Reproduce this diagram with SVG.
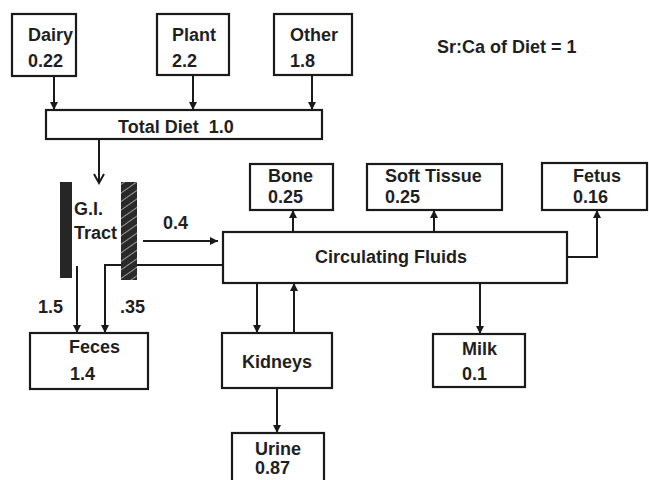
<svg xmlns="http://www.w3.org/2000/svg" width="649" height="480" viewBox="0 0 649 480">
<style>
.box{fill:#fff;stroke:#1a1a1a;stroke-width:2.2}
.ln{fill:none;stroke:#1a1a1a;stroke-width:2}
.t{font-family:"Liberation Sans",Arial,Helvetica,sans-serif;font-size:18px;font-weight:bold;fill:#1f1f1f}
</style>
<defs>
<marker id="ah" markerUnits="userSpaceOnUse" markerWidth="10" markerHeight="10" refX="8" refY="4" orient="auto">
<path d="M0,0 L8,4 L0,8 z" fill="#1a1a1a"/>
</marker>
<marker id="av" markerUnits="userSpaceOnUse" markerWidth="12" markerHeight="14" refX="10" refY="6" orient="auto">
<path d="M1,1 L10,6 L1,11" fill="none" stroke="#1a1a1a" stroke-width="2"/>
</marker>
<pattern id="hatch" patternUnits="userSpaceOnUse" width="7" height="7" patternTransform="rotate(-35)">
<rect width="7" height="7" fill="#2a2a2a"/>
<line x1="0" y1="3.5" x2="7" y2="3.5" stroke="#9a9a9a" stroke-width="1"/>
</pattern>
</defs>
<rect width="649" height="480" fill="#fff"/>

<g id="connectors">
<line class="ln" x1="54" y1="76" x2="54" y2="110" marker-end="url(#ah)"/>
<line class="ln" x1="193" y1="75" x2="193" y2="110" marker-end="url(#ah)"/>
<line class="ln" x1="312" y1="75" x2="312" y2="110" marker-end="url(#ah)"/>
<line class="ln" x1="99" y1="139" x2="99" y2="183" marker-end="url(#av)"/>
<line class="ln" x1="143" y1="241" x2="218" y2="241" marker-end="url(#ah)"/>
<polyline class="ln" points="223,265 105,265 105,333" marker-end="url(#ah)"/>
<line class="ln" x1="77" y1="266" x2="77" y2="333" marker-end="url(#ah)"/>
<line class="ln" x1="293" y1="232" x2="293" y2="210" marker-end="url(#ah)"/>
<line class="ln" x1="434" y1="232" x2="434" y2="210" marker-end="url(#ah)"/>
<polyline class="ln" points="567,257 597,257 597,210" marker-end="url(#ah)"/>
<line class="ln" x1="257" y1="283" x2="257" y2="333" marker-end="url(#ah)"/>
<line class="ln" x1="294" y1="333" x2="294" y2="283" marker-end="url(#ah)"/>
<line class="ln" x1="480" y1="283" x2="480" y2="334" marker-end="url(#ah)"/>
<line class="ln" x1="277" y1="388" x2="277" y2="433" marker-end="url(#ah)"/>
</g>

<g id="dairy"><rect class="box" x="12" y="14" width="64" height="62"/><text class="t" x="28" y="41">Dairy</text><text class="t" x="28" y="67">0.22</text></g>
<g id="plant"><rect class="box" x="157" y="14" width="72" height="61"/><text class="t" x="172" y="41">Plant</text><text class="t" x="172" y="67">2.2</text></g>
<g id="other"><rect class="box" x="274" y="14" width="78" height="61"/><text class="t" x="290" y="41">Other</text><text class="t" x="290" y="67">1.8</text></g>
<g id="note"><text class="t" x="437" y="53">Sr:Ca of Diet = 1</text></g>
<g id="total-diet"><rect class="box" x="46" y="110" width="276" height="29"/><text class="t" x="118" y="133" xml:space="preserve">Total Diet  1.0</text></g>

<g id="gi-tract">
<rect x="60" y="182" width="12" height="96" fill="#262626"/>
<rect x="121" y="182" width="16" height="98" fill="url(#hatch)"/>
<text class="t" x="74" y="215">G.I.</text>
<text class="t" x="74" y="239">Tract</text>
</g>
<g id="labels">
<text class="t" x="163" y="229">0.4</text>
<text class="t" x="38" y="313">1.5</text>
<text class="t" x="120" y="313">.35</text>
</g>

<g id="feces"><rect class="box" x="30" y="333" width="118" height="56"/><text class="t" x="69" y="353">Feces</text><text class="t" x="70" y="380">1.4</text></g>
<g id="circulating-fluids"><rect class="box" x="223" y="232" width="344" height="51"/><text class="t" x="315" y="263">Circulating Fluids</text></g>
<g id="bone"><rect class="box" x="250" y="164" width="83" height="46"/><text class="t" x="268" y="182">Bone</text><text class="t" x="268" y="203">0.25</text></g>
<g id="soft-tissue"><rect class="box" x="367" y="164" width="135" height="46"/><text class="t" x="385" y="182">Soft Tissue</text><text class="t" x="385" y="203">0.25</text></g>
<g id="fetus"><rect class="box" x="542" y="163" width="105" height="47"/><text class="t" x="573" y="182">Fetus</text><text class="t" x="573" y="203">0.16</text></g>
<g id="kidneys"><rect class="box" x="222" y="333" width="110" height="55"/><text class="t" x="242" y="368">Kidneys</text></g>
<g id="milk"><rect class="box" x="433" y="334" width="92" height="53"/><text class="t" x="462" y="355">Milk</text><text class="t" x="462" y="380">0.1</text></g>
<g id="urine"><rect class="box" x="232" y="433" width="92" height="52"/><text class="t" x="255" y="455">Urine</text><text class="t" x="255" y="474">0.87</text></g>
</svg>
